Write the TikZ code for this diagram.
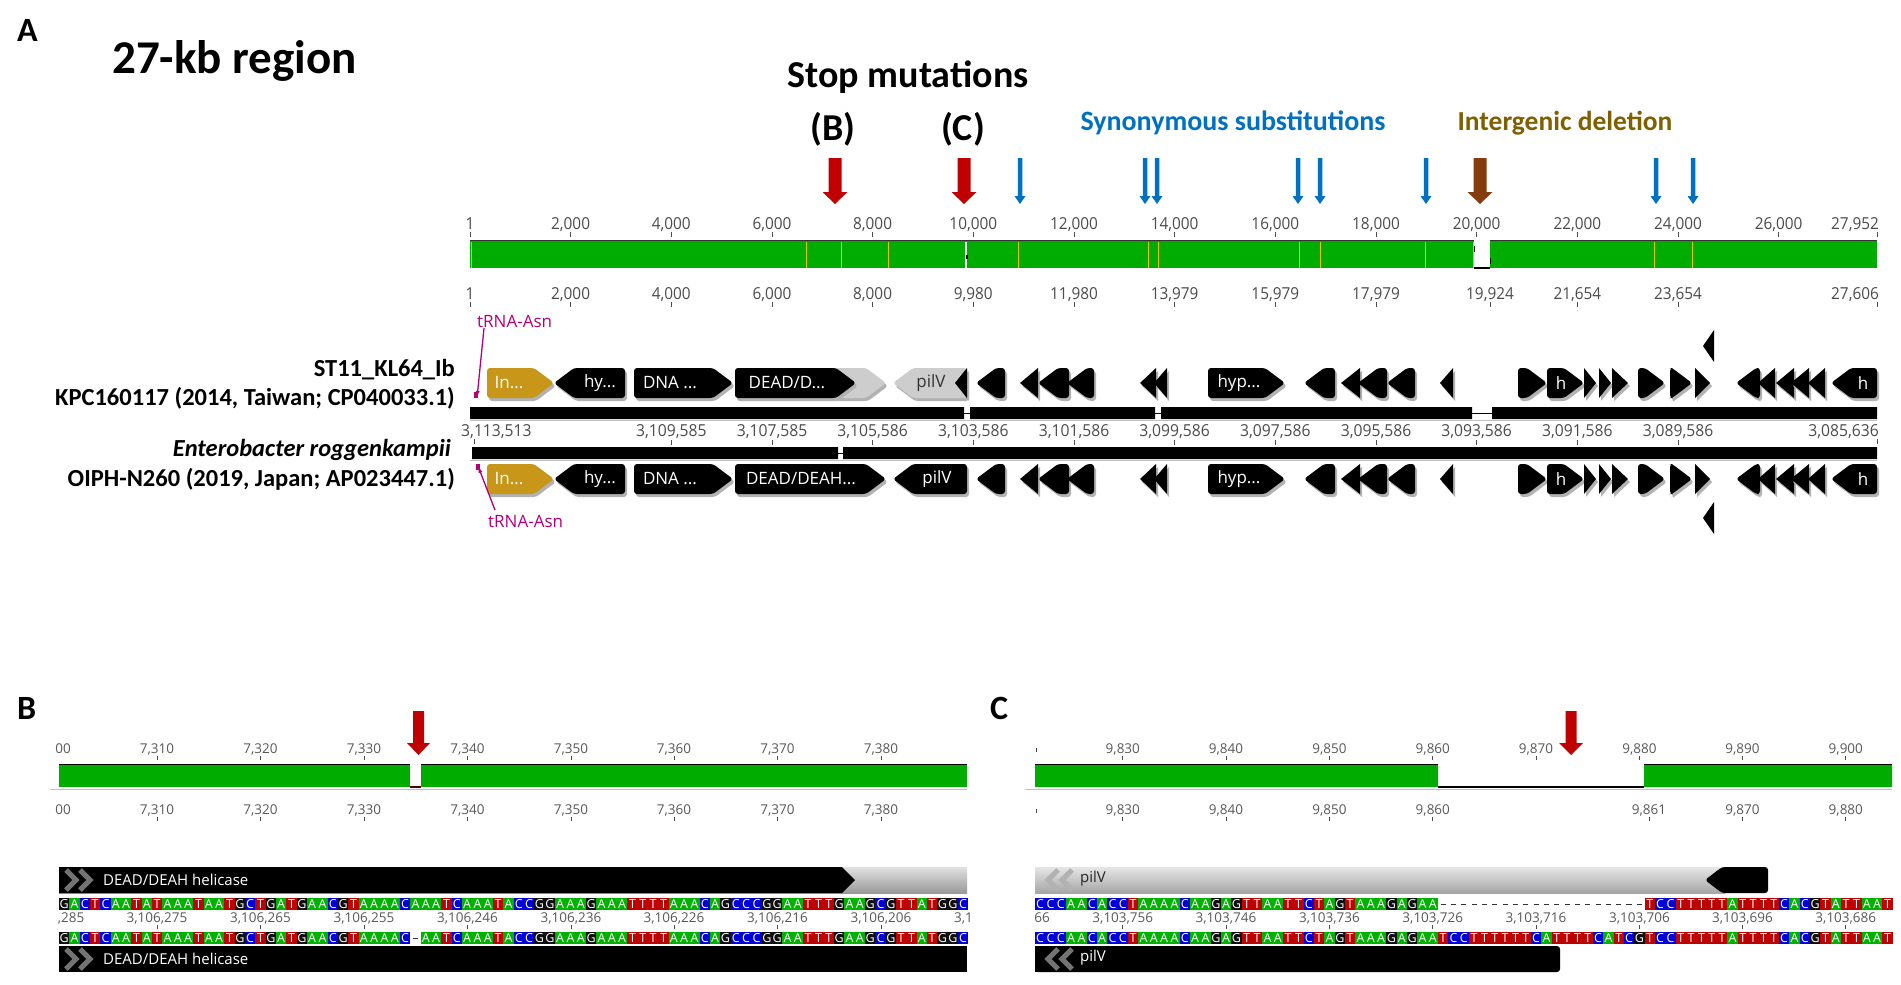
\documentclass[tikz,border=0pt]{standalone}
\usepackage{fontspec}
\setmainfont{Carlito}
\newfontfamily\gf{Open Sans}
\usetikzlibrary{arrows.meta}
\definecolor{ggreen}{RGB}{0,172,0}
\definecolor{scA}{RGB}{0,178,0}
\definecolor{scT}{RGB}{190,0,0}
\definecolor{scC}{RGB}{0,0,215}
\definecolor{scG}{RGB}{15,15,15}
\definecolor{stopred}{RGB}{192,0,0}
\definecolor{synblue}{RGB}{0,112,192}
\definecolor{deltxt}{RGB}{127,96,0}
\definecolor{delarrow}{RGB}{132,60,12}
\definecolor{gold}{RGB}{200,150,25}
\definecolor{trna}{RGB}{180,0,120}
\definecolor{ylw}{RGB}{225,200,0}
\definecolor{pale}{RGB}{205,205,205}
\definecolor{paleedge}{RGB}{150,150,150}
\definecolor{rulerblue}{RGB}{180,190,235}
\newcommand\fsz[1]{\fontsize{#1}{#1}\selectfont}
\tikzset{
  rlab/.style={font=\gf\fsz{16.5}, text=black!70, inner sep=0, xscale=0.93},
  clab/.style={font=\gf\fsz{16.5}, text=black!70, inner sep=0, xscale=0.95},
  blab/.style={font=\gf\fsz{13.5}, text=black!65, inner sep=0},
  glab/.style={font=\gf\fsz{17}, text=white, inner sep=0},
  seqlet/.style={font=\gf\fsz{12.5}, text=white, inner sep=0},
  ttl/.style={font=\bfseries, inner sep=0, anchor=base},
  tick/.style={draw=black!70, line width=0.9},
}
% gene: x1 x2 yc dir(1/-1) color labelx label labelcolor
\newcommand\gn[8]{%
  \pgfmathsetmacro\gw{#2-#1}%
  \pgfmathsetmacro\gt{min(20,\gw)}%
  \ifnum#4>0
    \pgfmathsetmacro\gs{#2-\gt}%
    \ifdim\gw pt<20.5pt
      \fill[black!30] (#1+2,#3-15+3) -- (#2+2,#3+3) -- (#1+2,#3+15+3) -- cycle;
      \fill[#5] (#1,#3-15) -- (#2,#3) -- (#1,#3+15) -- cycle;
    \else
      \fill[black!30,rounded corners=3] (#1+2,#3-15+3) -- (\gs+2,#3-15+3) -- (#2+2,#3+3) -- (\gs+2,#3+15+3) -- (#1+2,#3+15+3) -- cycle;
      \fill[#5,rounded corners=3] (#1,#3-15) -- (\gs,#3-15) -- (#2,#3) -- (\gs,#3+15) -- (#1,#3+15) -- cycle;
    \fi
  \else
    \pgfmathsetmacro\gs{#1+\gt}%
    \ifdim\gw pt<20.5pt
      \fill[black!30] (#2+2,#3-15+3) -- (#1+2,#3+3) -- (#2+2,#3+15+3) -- cycle;
      \fill[#5] (#2,#3-15) -- (#1,#3) -- (#2,#3+15) -- cycle;
    \else
      \fill[black!30,rounded corners=3] (#2+2,#3-15+3) -- (\gs+2,#3-15+3) -- (#1+2,#3+3) -- (\gs+2,#3+15+3) -- (#2+2,#3+15+3) -- cycle;
      \fill[#5,rounded corners=3] (#2,#3-15) -- (\gs,#3-15) -- (#1,#3) -- (\gs,#3+15) -- (#2,#3+15) -- cycle;
    \fi
  \fi
  \node[glab,text=#8] at (#6,#3) {#7};
}
% ruler tick with label: x y label
\newcommand\rt[3]{\node[rlab,anchor=base] at (#1,#2) {#3}; \draw[tick] (#1,#2+3) -- (#1,#2+8);}
\newcommand\ct[3]{\node[clab,anchor=base] at (#1,#2) {#3}; \draw[tick] (#1,#2+4) -- (#1,#2+9);}
\newcommand\bt[3]{\node[blab,anchor=base] at (#1,#2) {#3}; \draw[tick] (#1,#2+3) -- (#1,#2+7);}
% sequences
\newcount\bi
\def\seqrow#1#2#3{\bi=0 \def\sqx{#1}\def\sqy{#2}\seqloop#3\relax}
\def\seqloop#1{\ifx#1\relax\else\sqbase{#1}\advance\bi by 1\relax\expandafter\seqloop\fi}
\def\sqbase#1{%
  \pgfmathsetmacro\bx{\sqx+\the\bi*10.333}%
  \if#1-\relax
    \draw[black!80, line width=1] (\bx+2.5,\sqy+6) -- (\bx+7.8,\sqy+6);
  \else
    \fill[sc#1] (\bx,\sqy) rectangle (\bx+10.4,\sqy+12);
    \node[seqlet] at (\bx+5.17,\sqy+6.3) {#1};
  \fi}
\newcommand\dnarrow[5]{% x color shaftwidth headwidth headbase
  \fill[#2] (#1-#3/2,158) -- (#1+#3/2,158) -- (#1+#3/2,#5) -- (#1+#4/2,#5) -- (#1,204) -- (#1-#4/2,#5) -- (#1-#3/2,#5) -- cycle;}
\begin{document}
\begin{tikzpicture}[x=1pt,y=-1pt]
\useasboundingbox (0,0) rectangle (1901,985);
\fill[white] (0,0) rectangle (1901,985);

% ---------- panel labels and titles
\node[ttl,font=\bfseries\fsz{34},anchor=base west] (lA) at (17,41) {A};
\node[ttl,font=\bfseries\fsz{34},anchor=base west] (lB) at (17,719) {B};
\node[ttl,font=\bfseries\fsz{34},anchor=base west] (lC) at (990,719) {C};
\node[ttl,font=\bfseries\fsz{47},anchor=base west] (t27) at (112,73) {27-kb region};
\node[ttl,font=\bfseries\fsz{38}] (tstop) at (908,87) {Stop mutations};
\node[ttl,font=\bfseries\fsz{38}] (tB) at (833,140) {(B)};
\node[ttl,font=\bfseries\fsz{38}] (tC) at (963,140) {(C)};
\node[ttl,font=\bfseries\fsz{28},text=synblue] (tsyn) at (1233,130) {Synonymous substitutions};
\node[ttl,font=\bfseries\fsz{27.5},text=deltxt] (tdel) at (1565,130) {Intergenic deletion};

% ---------- arrows
\dnarrow{835}{stopred}{13}{25}{192}
\dnarrow{964}{stopred}{13}{25}{192}
\dnarrow{1480}{delarrow}{13}{25}{192}
\foreach \x in {1020,1145,1157,1298,1320,1426,1656,1693} {\dnarrow{\x}{synblue}{4.5}{11}{196}}

% ---------- top ruler
\rt{470}{229}{1}\rt{570.6}{229}{2,000}\rt{671.3}{229}{4,000}\rt{772}{229}{6,000}
\rt{872.6}{229}{8,000}\rt{973.3}{229}{10,000}\rt{1074}{229}{12,000}\rt{1174.6}{229}{14,000}
\rt{1275.3}{229}{16,000}\rt{1376}{229}{18,000}\rt{1476.6}{229}{20,000}\rt{1577.3}{229}{22,000}
\rt{1678}{229}{24,000}\rt{1778.6}{229}{26,000}
\node[rlab,anchor=base east] at (1879,229) {27,952}; \draw[tick] (1877,232) -- (1877,237);

% green identity bar
\fill[ggreen] (470,240) rectangle (1877,268);
\draw[black!80,line width=1.5] (470,240.5) -- (1474,240.5) (1490,240.5) -- (1877,240.5);
\fill[white] (1474,239) rectangle (1490,269);
\draw[black,line width=2] (1474,268) -- (1490,268);
\draw[black,line width=1] (1474,246) -- (1474,252) (1490,258) -- (1490,264);
\foreach \x in {471,806,841,888,1018,1148,1158,1299,1320,1425,1473,1654,1692}
  {\draw[ylw,line width=1] (\x,242) -- (\x,268);}
\draw[white,line width=1.3] (966,242) -- (966,268);
\fill[black] (965.5,255) rectangle (967.5,259);

% second ruler
\rt{470}{299}{1}\rt{570.6}{299}{2,000}\rt{671.3}{299}{4,000}\rt{772}{299}{6,000}
\rt{872.6}{299}{8,000}\rt{973.3}{299}{9,980}\rt{1074}{299}{11,980}\rt{1174.6}{299}{13,979}
\rt{1275.3}{299}{15,979}\rt{1376}{299}{17,979}\rt{1490}{299}{19,924}\rt{1577.3}{299}{21,654}
\rt{1678}{299}{23,654}
\node[rlab,anchor=base east] at (1879,299) {27,606}; \draw[tick] (1877,302) -- (1877,307);

% ---------- left labels
\node[ttl,font=\bfseries\fsz{24.5},anchor=base east] (n1) at (455,376) {ST11\_KL64\_Ib};
\node[ttl,font=\bfseries\fsz{24.5},anchor=base east] (n2) at (455,405) {KPC160117 (2014, Taiwan; CP040033.1)};
\node[ttl,font=\bfseries\itshape\fsz{24.5},anchor=base east] (n3) at (451,456) {Enterobacter roggenkampii};
\node[ttl,font=\bfseries\fsz{24.5},anchor=base east] (n4) at (455,486) {OIPH-N260 (2019, Japan; AP023447.1)};

% ---------- sequence bars
\fill[black] (470,407) rectangle (964,419) (970,407) rectangle (1155,419) (1161,407) rectangle (1472,419) (1492,407) rectangle (1877,419);
\draw[black,line width=1] (964,413) -- (970,413) (1155,413) -- (1161,413) (1472,413) -- (1492,413);
\fill[black] (472,447) rectangle (838,459) (843,447) rectangle (1877,459);
\draw[black,line width=1] (838,453) -- (843,453);
\draw[paleedge!60,line width=0.6] (470,420) -- (1877,420) (470,460) -- (1877,460);

% coordinates between bars
\node[clab,anchor=base west] at (461,436) {3,113,513}; \draw[tick] (474,439) -- (474,444);
\ct{671.3}{436}{3,109,585}\ct{772}{436}{3,107,585}\ct{872.6}{436}{3,105,586}
\ct{973.3}{436}{3,103,586}\ct{1074}{436}{3,101,586}\ct{1174.6}{436}{3,099,586}
\ct{1275.3}{436}{3,097,586}\ct{1376}{436}{3,095,586}\ct{1476.6}{436}{3,093,586}
\ct{1577.3}{436}{3,091,586}\ct{1678}{436}{3,089,586}
\node[clab,anchor=base east] at (1879,436) {3,085,636}; \draw[tick] (1877,439) -- (1877,444);

% ---------- genes common to both sequences
\foreach \yc in {383,479} {
  \gn{487}{554}{\yc}{1}{gold}{509}{In...}{white}
  \gn{554}{625}{\yc}{-1}{black}{600}{hy...}{white}
  \gn{634}{733}{\yc}{1}{black}{670}{DNA ...}{white}
  \gn{976}{1005}{\yc}{-1}{black}{990}{}{white}
  \gn{1020}{1038}{\yc}{-1}{black}{1030}{}{white}
  \gn{1038}{1069}{\yc}{-1}{black}{1050}{}{white}
  \gn{1067}{1094}{\yc}{-1}{black}{1080}{}{white}
  \gn{1140}{1156}{\yc}{-1}{black}{1150}{}{white}
  \gn{1154}{1167}{\yc}{-1}{black}{1160}{}{white}
  \gn{1208}{1285}{\yc}{1}{black}{1239}{hyp...}{white}
  \gn{1304}{1335}{\yc}{-1}{black}{1320}{}{white}
  \gn{1341}{1360}{\yc}{-1}{black}{1350}{}{white}
  \gn{1358}{1387}{\yc}{-1}{black}{1370}{}{white}
  \gn{1387}{1415}{\yc}{-1}{black}{1400}{}{white}
  \gn{1440}{1453}{\yc}{-1}{black}{1445}{}{white}
  \gn{1518}{1547}{\yc}{1}{black}{1530}{}{white}
  \gn{1547}{1584}{\yc}{1}{black}{1561}{h}{white}
  \gn{1584}{1596}{\yc}{1}{black}{1590}{}{white}
  \gn{1599}{1611}{\yc}{1}{black}{1605}{}{white}
  \gn{1612}{1628}{\yc}{1}{black}{1620}{}{white}
  \gn{1638}{1665}{\yc}{1}{black}{1650}{}{white}
  \gn{1670}{1692}{\yc}{1}{black}{1680}{}{white}
  \gn{1695}{1710}{\yc}{1}{black}{1700}{}{white}
  \gn{1736}{1760}{\yc}{-1}{black}{1750}{}{white}
  \gn{1758}{1775}{\yc}{-1}{black}{1765}{}{white}
  \gn{1776}{1794}{\yc}{-1}{black}{1785}{}{white}
  \gn{1791}{1809}{\yc}{-1}{black}{1800}{}{white}
  \gn{1808}{1825}{\yc}{-1}{black}{1815}{}{white}
  \gn{1831}{1877}{\yc}{-1}{black}{1863}{h}{white}
}
% seq1 specific
\gn{735}{886}{383}{1}{pale}{800}{}{white}
\gn{735}{856}{383}{1}{black}{787}{DEAD/D...}{white}
\gn{893}{967}{383}{-1}{pale}{931}{pilV}{black!80}
\gn{955}{967}{383}{-1}{black}{960}{}{white}
% seq2 specific
\gn{735}{886}{479}{1}{black}{801}{DEAD/DEAH...}{white}
\gn{893}{967}{479}{-1}{black}{937}{pilV}{white}
% flags
\fill[black] (1714,330) -- (1703,346) -- (1714,362) -- cycle;
\fill[black] (1714,502) -- (1703,518) -- (1714,534) -- cycle;

% tRNA
\fill[trna] (474,392) rectangle (478,398);
\draw[trna,line width=1.3,-{Latex[length=7,width=4]}] (484,328) -- (477,398);
\node[font=\gf\fsz{17},text=trna,anchor=base west,inner sep=0] (trna1) at (477,327) {tRNA-Asn};
\fill[trna] (476,464) rectangle (480,470);
\draw[trna,line width=1.3,{Latex[length=7,width=4]}-] (478,466) -- (495,510);
\node[font=\gf\fsz{17},text=trna,anchor=base west,inner sep=0] (trna2) at (488,527) {tRNA-Asn};

% ================= panel B =================
\fill[stopred] (413,711) -- (424,711) -- (424,743) -- (430,743) -- (418.5,755) -- (407,743) -- (413,743) -- cycle;
\node[blab,anchor=base east] at (71,753) {00};
\bt{157}{753}{7,310}\bt{260.5}{753}{7,320}\bt{364}{753}{7,330}\bt{467.5}{753}{7,340}
\bt{571}{753}{7,350}\bt{674}{753}{7,360}\bt{777.5}{753}{7,370}\bt{881}{753}{7,380}
\node[blab,anchor=base east] at (71,814) {00};
\bt{157}{814}{7,310}\bt{260.5}{814}{7,320}\bt{364}{814}{7,330}\bt{467.5}{814}{7,340}
\bt{571}{814}{7,350}\bt{674}{814}{7,360}\bt{777.5}{814}{7,370}\bt{881}{814}{7,380}
\fill[ggreen] (59,764) rectangle (967,787);
\draw[black,line width=1.3] (59,764.5) -- (967,764.5);
\fill[white] (410,763) rectangle (421,787);
\draw[black!70!red,line width=1.5] (410,787) -- (421,787);
\draw[rulerblue,line width=1] (50,789) -- (967,789);

% annotation bars B
\shade[top color=pale!60, bottom color=black!40] (59,867) rectangle (967,893);
\fill[black] (59,867) -- (842,867) -- (855,880) -- (842,893) -- (59,893) -- cycle;
\draw[black!55,line width=5] (66,870) -- (76,880) -- (66,890) (80,870) -- (90,880) -- (80,890);
\node[font=\gf\fsz{15},text=white,anchor=west,inner sep=0] (hB1) at (103,880) {DEAD/DEAH helicase};
\fill[black] (59,946) rectangle (967,972);
\draw[black!55,line width=5] (66,949) -- (76,959) -- (66,969) (80,949) -- (90,959) -- (80,969);
\node[font=\gf\fsz{15},text=white,anchor=west,inner sep=0] (hB2) at (103,959) {DEAD/DEAH helicase};

\seqrow{59}{898}{GACTCAATATAAATAATGCTGATGAACGTAAAACAAATCAAATACCGGAAAGAAATTTTAAACAGCCCGGAATTTGAAGCGTTATGGC}
\seqrow{59}{932}{GACTCAATATAAATAATGCTGATGAACGTAAAAC-AATCAAATACCGGAAAGAAATTTTAAACAGCCCGGAATTTGAAGCGTTATGGC}
\node[blab,anchor=base east] at (84.5,922) {,285};
\bt{157}{922}{3,106,275}\bt{260.5}{922}{3,106,265}\bt{364}{922}{3,106,255}
\bt{467.5}{922}{3,106,246}\bt{571}{922}{3,106,236}\bt{674}{922}{3,106,226}\bt{777.5}{922}{3,106,216}
\bt{881}{922}{3,106,206}
\node[blab,anchor=base west] at (954,922) {3,1};

% ================= panel C =================
\fill[stopred] (1565.5,711) -- (1576.5,711) -- (1576.5,743) -- (1583,743) -- (1571,755) -- (1559,743) -- (1565.5,743) -- cycle;
\draw[tick] (1036,748) -- (1036,752) (1036,809) -- (1036,813);
\bt{1122.8}{753}{9,830}\bt{1226}{753}{9,840}\bt{1329.5}{753}{9,850}
\bt{1432.8}{753}{9,860}\bt{1536}{753}{9,870}\bt{1639.5}{753}{9,880}\bt{1742.5}{753}{9,890}\bt{1845.8}{753}{9,900}
\bt{1122.8}{814}{9,830}\bt{1226}{814}{9,840}\bt{1329.5}{814}{9,850}
\bt{1432.8}{814}{9,860}\bt{1649}{814}{9,861}\bt{1742.5}{814}{9,870}\bt{1845.8}{814}{9,880}
\fill[ggreen] (1035,764) rectangle (1438,787) (1644,764) rectangle (1892,787);
\draw[black,line width=1.3] (1035,764.5) -- (1438,764.5) (1644,764.5) -- (1892,764.5);
\draw[black,line width=1.3] (1438,787) -- (1644,787);
\draw[rulerblue,line width=1] (1025,789) -- (1892,789);

% annotation bars C
\shade[top color=pale!50, bottom color=black!35] (1035,867) rectangle (1725,893);
\fill[black,rounded corners=3] (1768,867) -- (1768,893) -- (1722,893) -- (1705,880) -- (1722,867) -- cycle;
\draw[black!30,line width=5] (1058,870) -- (1048,880) -- (1058,890) (1072,870) -- (1062,880) -- (1072,890);
\node[font=\gf\fsz{15},text=black!85,anchor=west,inner sep=0] (pC1) at (1080,879) {pilV};
\fill[black,rounded corners=3] (1035,946) -- (1560,946) -- (1560,972) -- (1035,972) -- cycle;
\fill[black] (1035,946) rectangle (1045,972);
\draw[black!55,line width=5] (1058,949) -- (1048,959) -- (1058,969) (1072,949) -- (1062,959) -- (1072,969);
\node[font=\gf\fsz{15},text=white,anchor=west,inner sep=0] (pC2) at (1080,958) {pilV};

\seqrow{1035}{898}{CCCAACACCTAAAACAAGAGTTAATTCTAGTAAAGAGAA--------------------TCCTTTTTATTTTCACGTATTAAT}
\seqrow{1035}{932}{CCCAACACCTAAAACAAGAGTTAATTCTAGTAAAGAGAATCCTTTTTTCATTTTCATCGTCCTTTTTATTTTCACGTATTAAT}
\node[blab,anchor=base east] at (1050,922) {66};
\bt{1122.8}{922}{3,103,756}\bt{1226}{922}{3,103,746}\bt{1329.5}{922}{3,103,736}
\bt{1432.8}{922}{3,103,726}\bt{1536}{922}{3,103,716}\bt{1639.5}{922}{3,103,706}\bt{1742.5}{922}{3,103,696}
\bt{1845.8}{922}{3,103,686}
\end{tikzpicture}
\end{document}
